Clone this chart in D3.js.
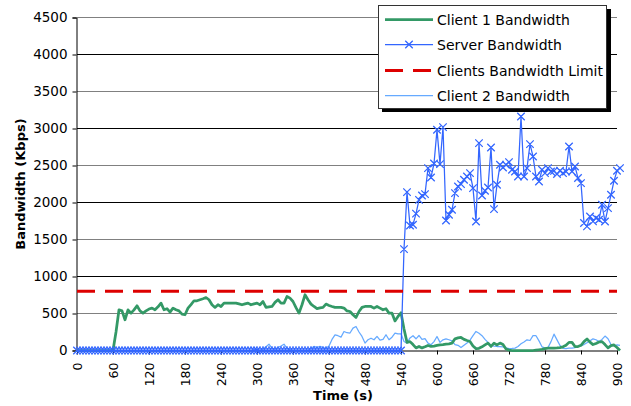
<!DOCTYPE html>
<html><head><meta charset="utf-8">
<script src="https://cdn.jsdelivr.net/npm/d3@7"></script>
<style>
body{margin:0;background:#fff}
svg{display:block}
text{font-family:"DejaVu Sans",Verdana,sans-serif;fill:#000}
</style>
</head><body>
<svg id="chart" width="631" height="406"></svg>
<script>
// ---- data (sampled every 5 s, 0..905 s) ----
const times = d3.range(0, 906, 5);
const client1 = [
0,0,0,0,0,0,0,0,0,0,0,0,
0,250,550,535,415,550,505,550,604,535,505,535,
560,573,550,590,640,550,565,519,573,550,535,492,
483,573,620,672,672,686,700,716,686,618,582,618,
595,640,640,640,640,640,630,618,630,640,618,630,
640,618,662,582,590,595,650,686,640,640,730,708,
662,580,505,618,753,686,627,595,565,575,582,627,
609,595,582,582,582,573,535,527,483,447,527,582,
595,595,595,573,595,573,550,565,505,505,400,460,
510,290,110,120,80,35,55,35,50,68,55,60,
68,75,80,86,90,100,158,170,176,150,135,122,
60,25,30,50,75,99,55,99,75,100,80,20,
5,0,0,0,0,0,0,0,0,5,10,15,
25,32,32,32,35,40,50,70,110,110,54,54,
70,120,155,113,80,95,115,120,80,35,65,75,
40,0];
const server = [
0,0,0,0,0,0,0,0,0,0,0,0,
0,0,0,0,0,0,0,0,0,0,0,0,
0,0,0,0,0,0,0,0,0,0,0,0,
0,0,0,0,0,0,0,0,0,0,0,0,
0,0,0,0,0,0,0,0,0,0,0,0,
0,0,0,0,0,0,0,0,0,0,0,0,
0,0,0,0,0,0,0,0,0,0,0,0,
0,0,0,0,0,0,0,0,0,0,0,0,
0,0,0,0,0,0,0,0,0,0,0,0,
0,1370,2140,1690,1700,1850,2036,2095,2113,2465,2338,2527,
2982,2519,3019,1757,1834,1901,2127,2216,2248,2307,2351,2397,
2194,1743,2802,2095,2158,2203,2743,1911,2239,2509,2473,2509,
2546,2442,2420,2351,3162,2351,2465,2789,2622,2351,2284,2442,
2397,2465,2419,2427,2384,2430,2397,2420,2757,2419,2487,2330,
2262,1722,1677,1811,1745,1790,1767,1969,1743,1924,2104,2293,
2428,2465];
const client2 = [
0,0,0,0,0,0,0,0,0,0,0,0,
0,0,0,0,0,0,0,0,0,0,0,0,
0,0,0,0,0,0,0,0,0,0,0,0,
0,0,0,0,0,0,0,0,0,0,0,0,
0,0,0,0,0,0,0,0,0,0,0,0,
0,0,20,50,85,30,20,40,60,85,30,10,
0,0,0,0,0,0,30,55,40,55,40,30,
60,150,212,200,181,257,240,236,302,325,250,190,
100,145,166,145,190,140,150,213,145,180,235,225,
225,122,100,170,200,158,203,150,160,100,77,120,
189,110,144,158,145,131,80,70,40,70,100,140,
200,257,234,200,150,110,68,60,54,54,50,35,
25,28,32,55,90,115,144,135,200,200,130,50,
35,40,120,221,144,68,30,25,32,32,40,54,
65,80,105,130,158,145,122,150,195,160,80,60,
77,68];
const limit = 800;
const xTicks = [0,60,120,180,240,300,360,420,480,540,600,660,720,780,840,900];
const yTicks = [0,500,1000,1500,2000,2500,3000,3500,4000,4500];
const seriesNames = ["Client 1 Bandwidth","Server Bandwidth","Clients Bandwidth Limit","Client 2 Bandwidth"];

[client1, server, client2].forEach(a => { if (a.length !== times.length) throw new Error("length " + a.length); });

// ---- layout ----
const svg = d3.select("#chart");
const L = 77, R = 617, T = 17.5, B = 350.5;
const x = d3.scaleLinear().domain([0, 900]).range([L, R]);
const y = d3.scaleLinear().domain([0, 4500]).range([B, T]);

const C1 = "#339966", SRV = "#3366ff", LIM = "#dd0000", C2 = "#66aaff";

// gridlines
svg.append("g").selectAll("line").data(yTicks.filter(d => d > 0)).join("line")
  .attr("x1", L).attr("x2", R)
  .attr("y1", d => y(d)).attr("y2", d => y(d))
  .attr("stroke", d => d % 1000 === 0 ? "#000" : "#808080")
  .attr("stroke-width", 1);

// y axis
const yAxis = d3.axisLeft(y).tickValues(yTicks).tickFormat(d3.format("d")).tickSize(4).tickPadding(5);
const gy = svg.append("g").attr("transform", `translate(${L - 0.5},0)`).call(yAxis);
gy.select(".domain").attr("stroke", "#000");
gy.selectAll(".tick line").attr("stroke", "#000");
gy.selectAll("text").style("font-size", "13.5px").attr("fill", "#000");

// x axis
const xAxis = d3.axisBottom(x).tickValues(xTicks).tickFormat(d3.format("d")).tickSize(4).tickSizeOuter(0);
const gx = svg.append("g").attr("transform", `translate(0,${B})`).call(xAxis);
gx.select(".domain").attr("stroke", "#000");
gx.selectAll(".tick line").attr("stroke", "#000");
gx.selectAll("text").style("font-size", "12.5px").attr("fill", "#000")
  .attr("text-anchor", "end")
  .attr("transform", "rotate(-90)")
  .attr("x", -12).attr("y", 0).attr("dy", "0.36em");

// axis titles
svg.append("text").attr("x", 343).attr("y", 400).attr("text-anchor", "middle")
  .style("font-size", "13px").style("font-weight", "bold").text("Time (s)");
svg.append("text").attr("transform", `translate(25,${(T + B) / 2}) rotate(-90)`)
  .attr("text-anchor", "middle").style("font-size", "13px").style("font-weight", "bold")
  .text("Bandwidth (Kbps)");

// lines
const line = arr => d3.line().x((d, i) => x(times[i])).y(d => y(d))(arr);

svg.append("path").attr("d", line(client2)).attr("fill", "none")
  .attr("stroke", C2).attr("stroke-width", 1.25).attr("stroke-linejoin", "round");
svg.append("path").attr("d", line(client1)).attr("fill", "none")
  .attr("stroke", C1).attr("stroke-width", 2.75).attr("stroke-linejoin", "round");
svg.append("path").attr("d", line(server)).attr("fill", "none")
  .attr("stroke", SRV).attr("stroke-width", 1.25).attr("stroke-linejoin", "round");

const ms = 3.75;
const cross = (cx, cy) => `M${cx - ms},${cy - ms}L${cx + ms},${cy + ms}M${cx - ms},${cy + ms}L${cx + ms},${cy - ms}`;
svg.append("path")
  .attr("d", server.map((d, i) => cross(x(times[i]), y(d))).join(""))
  .attr("fill", "none").attr("stroke", SRV).attr("stroke-width", 1.3);

svg.append("line").attr("x1", x(0)).attr("x2", x(900))
  .attr("y1", y(limit)).attr("y2", y(limit))
  .attr("stroke", LIM).attr("stroke-width", 3).attr("stroke-dasharray", "18,10");

// legend
const lg = svg.append("g");
lg.append("rect").attr("x", 382).attr("y", 9).attr("width", 229).attr("height", 103).attr("fill", "#000");
lg.append("rect").attr("x", 378.5).attr("y", 5.5).attr("width", 228).attr("height", 103)
  .attr("fill", "#fff").attr("stroke", "#333").attr("stroke-width", 1);
const rows = [19.5, 44.5, 70.5, 95.5];
const styles = [
  {c: C1, w: 2.75, dash: null},
  {c: SRV, w: 1.25, dash: null, marker: true},
  {c: LIM, w: 3, dash: "18,10"},
  {c: C2, w: 1.25, dash: null}
];
seriesNames.forEach((name, i) => {
  const s = styles[i], yy = rows[i];
  lg.append("line").attr("x1", 385).attr("x2", 433).attr("y1", yy).attr("y2", yy)
    .attr("stroke", s.c).attr("stroke-width", s.w).attr("stroke-dasharray", s.dash);
  if (s.marker) lg.append("path").attr("d", cross(409, yy)).attr("stroke", s.c).attr("stroke-width", 1.3);
  lg.append("text").attr("x", 437).attr("y", yy).attr("dy", "0.36em")
    .style("font-size", "14px").text(name);
});
</script>
</body></html>
